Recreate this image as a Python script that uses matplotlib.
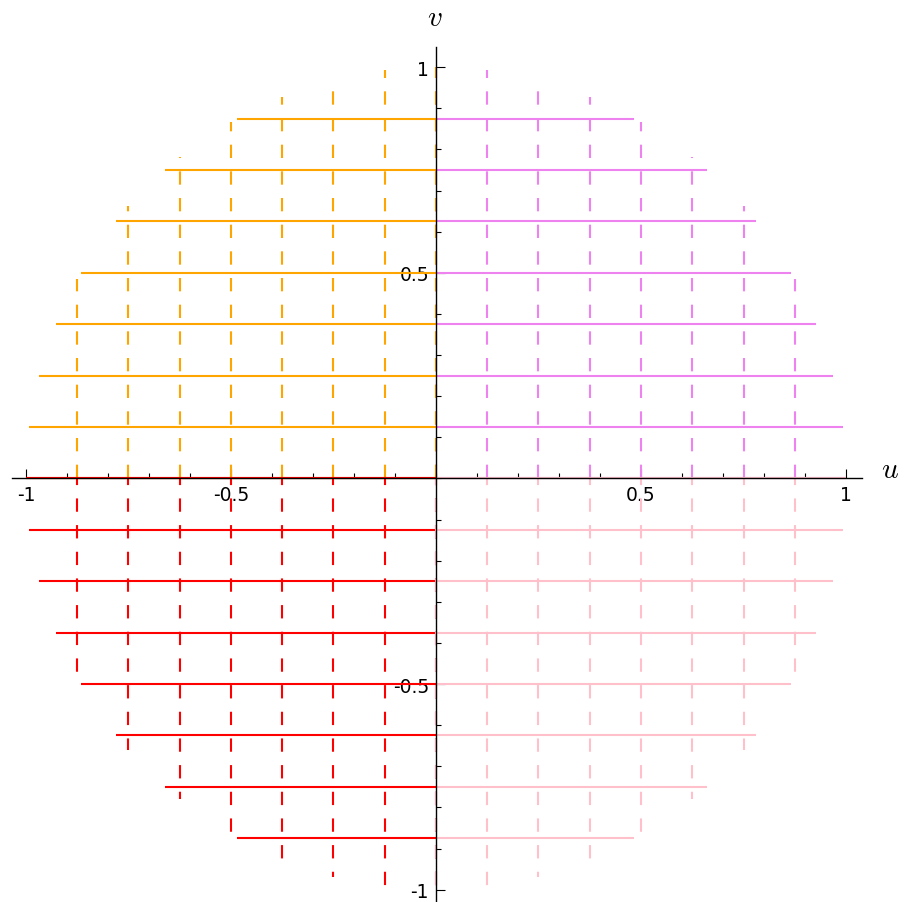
import numpy as np
import matplotlib
matplotlib.use("Agg")
import matplotlib.pyplot as plt
from matplotlib.ticker import FixedLocator, MultipleLocator

plt.rcParams["mathtext.fontset"] = "cm"

# grid levels (k/8)
levels = [0.0, 0.125, 0.25, 0.375, 0.5, 0.625, 0.75, 0.875]
quad_colors = {"UL": "#FFA500", "UR": "#EE82EE", "LL": "#FF0000", "LR": "#FFC0CB"}
xtick_vals = [-1, -0.5, 0.5, 1]
xtick_labels = ["-1", "-0.5", "0.5", "1"]
ytick_vals = [-1, -0.5, 0.5, 1]
ytick_labels = ["-1", "-0.5", "0.5", "1"]

fig = plt.figure(figsize=(9.06, 9.03), dpi=100)
ax = fig.add_axes([12/906, 0.0, 850/906, 855/903])

lw = 1.5
dash_up = (0, (6.4, 6.4))
dash_down = (3.0, (6.4, 6.4))
quads = [("UR", 1, 1), ("UL", -1, 1), ("LL", -1, -1), ("LR", 1, -1)]
for name, su, sv in quads:
    c = quad_colors[name]
    ls = dash_up if sv > 0 else dash_down
    for lv in levels:
        ext = np.sqrt(1 - lv**2)
        # horizontal solid line at v = sv*lv
        ax.plot([0, su*ext], [sv*lv, sv*lv], color=c, lw=lw, zorder=2, solid_capstyle="butt")
        # vertical dashed line at u = su*lv
        ax.plot([su*lv, su*lv], [0, sv*ext], color=c, lw=lw, linestyle=ls, zorder=2)

ax.set_xlim(-1.034, 1.039)
ax.set_ylim(-1.03, 1.049)

for s in ["top", "right"]:
    ax.spines[s].set_visible(False)
ax.spines["left"].set_position(("data", 0))
ax.spines["bottom"].set_position(("data", 0))
for s in ["left", "bottom"]:
    ax.spines[s].set_linewidth(1.0)
    ax.spines[s].set_zorder(5)

ax.xaxis.set_major_locator(FixedLocator(xtick_vals))
ax.set_xticklabels(xtick_labels)
ax.yaxis.set_major_locator(FixedLocator(ytick_vals))
ax.set_yticklabels(ytick_labels)
ax.xaxis.set_minor_locator(MultipleLocator(0.1))
ax.yaxis.set_minor_locator(MultipleLocator(0.1))
ax.tick_params(which="major", direction="in", length=6.5, width=0.8, labelsize=13.5, pad=5)
ax.tick_params(which="minor", direction="in", length=3.5, width=0.8)

fig.text(890/906, 1 - 470/903, r"$u$", fontsize=21, ha="center", va="center")
fig.text(435/906, 1 - 18/903, r"$v$", fontsize=21, ha="center", va="center")

fig.savefig("out.png", dpi=100)
